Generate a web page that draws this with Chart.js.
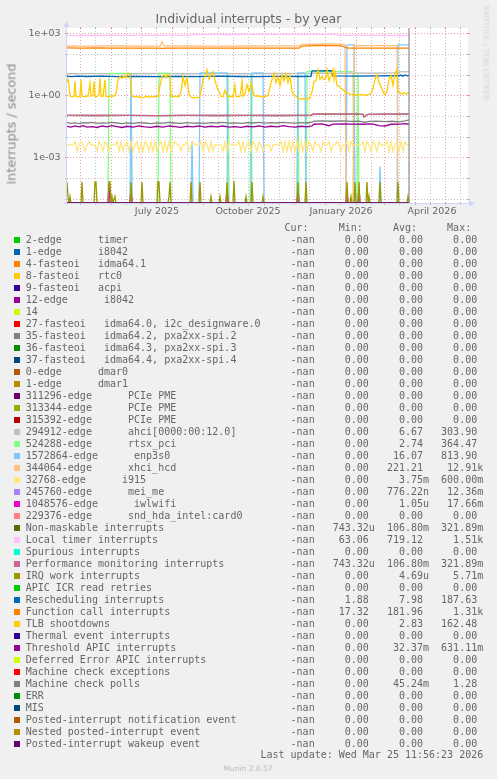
<!DOCTYPE html>
<html><head><meta charset="utf-8">
<script src="https://cdn.jsdelivr.net/npm/chart.js@4.4.0/dist/chart.umd.min.js"></script>
<style>
html,body{margin:0;padding:0;background:#F0F0F0;width:497px;height:779px;overflow:hidden;}
#wrap{position:relative;width:497px;height:779px;}
#c{position:absolute;left:0;top:0;}
.m{position:absolute;white-space:pre;font-family:'DejaVu Sans Mono',monospace;font-size:10px;line-height:12px;color:#666;}
.sq{position:absolute;width:6px;height:6px;}
.s{position:absolute;white-space:nowrap;font-family:'DejaVu Sans',sans-serif;color:#666;}
</style></head><body><div id="wrap"><canvas id="c" width="497" height="225"></canvas></div>
<script>
// ---------- texts ----------
const TITLE = 'Individual interrupts - by year';
const Y_TITLE = 'interrupts / second';
const WATERMARK = 'RRDTOOL / TOBI OETIKER';
const FOOTER = 'Munin 2.0.57';
const LAST_UPDATE = 'Last update: Wed Mar 25 11:56:23 2026';

// ---------- axes (x in days since 18 Apr 2025) ----------
const X_MAX = 401;
const Y_MIN = 6.3e-6, Y_MAX = 1.78e3;
const dataEndDay = 342;
const xLabelDays = [90, 181, 274, 365];
const xLabels = ['July 2025', 'October 2025', 'January 2026', 'April 2026'];
const monthStartDays = [13, 44, 74, 105, 136, 166, 197, 227, 258, 289, 317, 348, 378];
const minorGridDays = [28, 59, 89, 120, 151, 181, 212, 242, 273, 304, 332, 363, 393];
const yTickValues = [1e3, 1, 1e-3];
const yTickLabels = ['1e+03', '1e+00', '1e-03'];
const yMajorGrid = [1e3, 1, 1e-3];
const yMinorGrid = [1e2, 1e1, 1e-1, 1e-2, 1e-4, 1e-5];

// ---------- series: [day, interrupts/s] ----------
const ahci = [[0,11],[30,11.2],[60,11],[90,11.3],[120,11],[150,11.2],[180,11],[210,11.3],[240,11.1],[250,11.8],[270,11.5],[285,12],[300,11.6],[331,12],[333,13.5],[342,14]];
const rtsx = [[0,0],[41,0],[42,11.5],[64,11.5],[65,0],[91,0],[92,11.5],[103,11.5],[104,0],[160,0],[161,11],[162,0],[183,0],[184,11],[185,0],[230,0],[231,11],[232,0],[239,0],[240,14],[286,14],[287,0],[290,0],[291,11],[292,0],[342,0]];
const enp3s0 = [[0,0],[63,0],[64,12],[65,0],[124,0],[125,0.0058],[126,0],[132,0],[133,12],[160,12],[161,0],[184,0],[185,12],[196,12],[197,0],[230,0],[231,12],[238,12],[239,0],[279,0],[280,270],[287,270],[288,0],[312,0],[313,0.00036],[314,0],[330,0],[331,270],[342,270]];
const xhci = [[0,240],[20,238],[40,242],[60,240],[80,238],[93,240],[94,300],[95,380],[96,300],[97,242],[120,240],[150,238],[180,240],[210,242],[232,245],[235,290],[250,295],[265,300],[275,290],[278,285],[279,0],[286,0],[287,255],[300,250],[315,252],[330,250],[331,0],[342,0]];
const i915 = [[0,0.004],[2,0.004],[4,0.004],[6,0.004],[8,0.0058],[10,0.002],[12,0.004],[14,0.0058],[16,0.004],[18,0.002],[20,0.004],[22,0.0058],[24,0.004],[26,0.004],[28,0.004],[30,0.002],[32,0.0058],[34,0.004],[36,0.002],[38,0.0058],[40,0.004],[42,0.002],[44,0.004],[46,0.004],[48,0.004],[50,0.0058],[52,0.002],[54,0.0058],[56,0.002],[58,0.004],[60,0.0058],[62,0.002],[64,0.0058],[66,0.002],[68,0.004],[70,0.0058],[72,0.002],[74,0.005],[76,0.002],[78,0.0058],[80,0.004],[82,0.002],[84,0.0058],[86,0.002],[88,0.0058],[90,0.002],[92,0.004],[94,0.0058],[96,0.002],[98,0.0058],[100,0.002],[102,0.0058],[104,0.002],[106,0.004],[108,0.0058],[110,0.004],[112,0.004],[114,0.002],[116,0.004],[118,0.004],[120,0.0058],[122,0.002],[124,0.004],[126,0.0058],[128,0.004],[130,0.004],[132,0.004],[134,0.0058],[136,0.002],[138,0.0058],[140,0.004],[142,0.002],[144,0.0058],[146,0.002],[148,0.004],[150,0.004],[152,0.004],[154,0.004],[156,0.002],[158,0.0058],[160,0.002],[162,0.0058],[164,0.004],[166,0.004],[168,0.004],[170,0.004],[172,0.0058],[174,0.002],[176,0.0058],[178,0.002],[180,0.004],[182,0.0058],[184,0.002],[186,0.0058],[188,0.004],[190,0.002],[192,0.0058],[194,0.004],[196,0.002],[198,0.004],[200,0.004],[202,0.004],[204,0.002],[206,0.004],[208,0.004],[210,0.004],[212,0.004],[214,0.0058],[216,0.002],[218,0.0058],[220,0.002],[222,0.0058],[224,0.002],[226,0.0058],[228,0.002],[230,0.0058],[232,0.002],[234,0.0058],[236,0.002],[238,0.0058],[240,0.002],[242,0.0058],[244,0.004],[246,0.002],[248,0.0058],[250,0.004],[252,0.004],[254,0.002],[256,0.0058],[258,0.004],[260,0.004],[262,0.0058],[264,0.002],[266,0.004],[268,0.004],[270,0.0058],[272,0.004],[274,0.002],[276,0.004],[278,0.004],[280,0.0058],[282,0.002],[284,0.0058],[286,0.004],[288,0.004],[290,0.004],[292,0.004],[294,0.004],[296,0.0058],[298,0.002],[300,0.0058],[302,0.004],[304,0.002],[306,0.0058],[308,0.004],[310,0.002],[312,0.0058],[314,0.004],[316,0.004],[318,0.004],[320,0.0058],[322,0.002],[324,0.0058],[326,0.002],[328,0.004],[330,0.0058],[332,0.002],[334,0.0058],[336,0.002],[338,0.0058],[340,0.004],[342,0.004]];
const iwlwifi = [[0,0],[41,0],[42,5e-5],[43,0],[63,0],[64,3e-5],[65,0],[159,0],[160,3e-5],[161,0],[230,0],[231,3e-5],[232,0],[279,0],[280,3e-5],[281,0],[291,0],[292,3e-5],[293,0],[342,0]];
const pmi = [[0,0.107],[30,0.106],[60,0.107],[90,0.105],[120,0.107],[150,0.106],[180,0.107],[210,0.106],[244,0.107],[246,0.122],[270,0.123],[290,0.122],[296,0.12],[297,0.09],[299,0.105],[301,0.121],[320,0.122],[342,0.124]];
const nmi = pmi;
const localTimer = [[0,780],[10,770],[20,785],[30,775],[45,790],[60,780],[75,785],[90,790],[95,800],[100,785],[110,790],[123,800],[126,860],[140,870],[160,865],[180,875],[200,870],[220,880],[240,875],[255,880],[268,870],[272,790],[290,780],[310,785],[330,775],[342,780]];
const irqWork = [[0,6.5e-5],[1,1.3e-5],[2,0],[3,1.3e-5],[4,0],[14,0],[15,6.5e-5],[16,0],[27,0],[28,6.5e-5],[29,6.5e-5],[30,0],[41,0],[42,6.5e-5],[43,6.5e-5],[44,0],[45,1.3e-5],[46,0],[48,1.3e-5],[49,0],[63,0],[64,6.5e-5],[65,0],[74,0],[75,6.5e-5],[76,0],[90,0],[91,6.5e-5],[92,6.5e-5],[93,0],[101,0],[102,1.3e-5],[103,6.5e-5],[104,0],[123,0],[124,6.5e-5],[125,0],[132,0],[133,6.5e-5],[134,0],[143,0],[144,1.3e-5],[145,0],[152,0],[153,1.3e-5],[154,0],[159,0],[160,6.5e-5],[161,0],[166,0],[167,7.5e-5],[168,0],[178,0],[179,1.3e-5],[180,0],[184,0],[185,6.5e-5],[186,0],[195,0],[196,1.3e-5],[197,0],[230,0],[231,6.5e-5],[232,0],[238,0],[239,6.5e-5],[240,0],[279,0],[280,6.5e-5],[281,0],[283,0],[284,1.3e-5],[285,0],[287,0],[288,6.5e-5],[289,0],[291,0],[292,6.5e-5],[293,0],[299,0],[300,6.5e-5],[301,0],[302,1.3e-5],[303,0],[312,0],[313,6.5e-5],[314,0],[330,0],[331,6.5e-5],[332,0],[340,0],[341,1.3e-5],[342,0]];
const rescheduling = [[0,8.3],[5,8.0],[10,8.4],[20,8.1],[35,8.5],[50,8.0],[70,8.3],[90,7.9],[110,8.2],[130,8.0],[150,8.4],[170,8.1],[190,8.0],[210,8.2],[230,8.1],[244,8.2],[245,15],[265,15.5],[266,8.6],[290,8.4],[310,8.6],[332,8.8],[334,9.5],[336,8.4],[338,9.6],[340,8.8],[342,9.2]];
const functionCall = [[0,195],[15,190],[30,193],[45,188],[60,192],[75,190],[90,188],[96,185],[100,190],[120,192],[140,190],[160,188],[180,190],[200,192],[220,188],[232,192],[235,240],[245,250],[255,255],[265,250],[275,245],[279,200],[282,192],[300,190],[320,192],[342,190]];
const tlb = [[0,4.5],[1,6],[2,3],[3,0.9],[5,0.85],[7,0.9],[8,4.7],[9,0.9],[11,0.85],[13,0.9],[14,5.5],[15,0.9],[17,0.85],[19,0.9],[21,0.9],[23,3.9],[24,0.9],[26,1.0],[27,4.7],[28,0.9],[30,0.85],[32,1.2],[33,6.8],[34,0.9],[36,0.9],[38,5.6],[39,0.9],[41,0.85],[43,0.9],[45,0.95],[47,0.9],[49,1.2],[51,5.6],[53,8],[55,6.5],[57,9],[59,7],[61,11.9],[63,9],[65,0.9],[67,0.85],[69,0.9],[71,0.8],[73,0.85],[75,0.75],[77,0.8],[79,0.9],[81,0.85],[83,0.8],[85,0.9],[87,0.85],[89,0.9],[91,0.9],[93,3],[95,8],[97,9.8],[99,7],[101,10],[103,8],[104,0.9],[106,0.85],[108,0.9],[110,0.9],[112,0.85],[114,1.5],[116,8.1],[118,3],[120,7],[122,1.1],[124,0.8],[126,0.75],[128,0.8],[130,0.75],[132,0.8],[134,1.5],[136,6],[138,8],[140,17],[142,6],[144,9],[146,14],[148,5],[150,2.5],[152,1.5],[154,0.9],[156,0.85],[158,1.8],[160,0.9],[162,0.85],[164,0.9],[166,0.85],[168,3],[169,0.9],[171,0.85],[173,0.9],[175,4.7],[176,0.9],[178,1.2],[180,3.2],[182,1.5],[184,3.9],[185,2.7],[187,1.0],[189,0.9],[191,0.95],[193,0.87],[195,0.9],[197,0.87],[199,0.9],[201,1.0],[203,2.5],[205,6],[207,12],[209,4],[211,8],[213,3],[215,9.8],[217,5],[219,11],[221,4],[223,9],[225,1.5],[227,1.06],[229,0.9],[231,0.7],[233,0.65],[235,0.7],[237,0.65],[239,0.68],[241,0.7],[243,0.75],[245,1.5],[247,4.7],[249,5],[251,17],[253,6],[255,8],[257,5.6],[259,7],[260,17],[262,5],[264,8],[266,17],[267,6],[268,14],[270,3],[272,2.7],[274,2.2],[276,1.85],[278,1.5],[280,1.3],[282,1.2],[284,1.1],[286,1.06],[288,1.1],[290,1.0],[292,1.1],[294,1.05],[296,1.1],[298,1.0],[300,1.06],[302,1.1],[304,1.3],[306,2],[308,6],[310,9.8],[312,4],[314,2.7],[316,1.5],[318,1.06],[320,1.5],[322,6],[324,9],[326,3],[328,12],[330,17],[331,1.5],[333,1.3],[335,1.1],[337,1.4],[339,1.2],[341,1.3],[342,1.2]];
const thresholdApic = [[0,0.032],[4,0.029],[8,0.033],[12,0.030],[16,0.034],[20,0.029],[25,0.031],[30,0.028],[35,0.033],[40,0.030],[45,0.034],[50,0.031],[55,0.028],[60,0.032],[66,0.029],[72,0.033],[78,0.030],[84,0.028],[90,0.032],[96,0.029],[102,0.033],[108,0.031],[114,0.028],[120,0.032],[126,0.030],[132,0.033],[138,0.029],[144,0.032],[150,0.030],[156,0.033],[162,0.029],[168,0.031],[174,0.028],[180,0.032],[186,0.030],[192,0.033],[198,0.029],[204,0.032],[210,0.030],[216,0.034],[222,0.031],[228,0.029],[234,0.032],[240,0.030],[245,0.033],[247,0.040],[255,0.042],[262,0.034],[266,0.041],[275,0.042],[285,0.041],[295,0.040],[305,0.042],[312,0.034],[318,0.033],[324,0.040],[332,0.041],[338,0.043],[342,0.040]];
const machineCheckPolls = [[0,0.048],[4,0.044],[8,0.047],[12,0.043],[16,0.048],[20,0.046],[25,0.049],[30,0.044],[35,0.047],[40,0.045],[45,0.049],[50,0.046],[55,0.043],[60,0.047],[66,0.044],[72,0.048],[78,0.046],[84,0.043],[90,0.047],[96,0.045],[102,0.049],[108,0.046],[114,0.044],[120,0.048],[126,0.045],[132,0.047],[138,0.044],[144,0.048],[150,0.046],[156,0.049],[162,0.045],[168,0.047],[174,0.044],[180,0.048],[186,0.046],[192,0.049],[198,0.045],[204,0.048],[210,0.046],[216,0.049],[222,0.047],[228,0.045],[234,0.048],[240,0.046],[245,0.050],[247,0.057],[255,0.058],[265,0.056],[275,0.058],[285,0.055],[292,0.057],[298,0.050],[302,0.055],[310,0.057],[318,0.054],[325,0.056],[332,0.052],[338,0.058],[342,0.065]];
const postedWakeup = [[0,0],[342,0]];

// ---------- legend ----------
const legendLabels = ['2-edge      timer','1-edge      i8042','4-fasteoi   idma64.1','8-fasteoi   rtc0','9-fasteoi   acpi','12-edge      i8042','14','27-fasteoi   idma64.0, i2c_designware.0','35-fasteoi   idma64.2, pxa2xx-spi.2','36-fasteoi   idma64.3, pxa2xx-spi.3','37-fasteoi   idma64.4, pxa2xx-spi.4','0-edge      dmar0','1-edge      dmar1','311296-edge      PCIe PME','313344-edge      PCIe PME','315392-edge      PCIe PME','294912-edge      ahci[0000:00:12.0]','524288-edge      rtsx_pci','1572864-edge      enp3s0','344064-edge      xhci_hcd','32768-edge      i915','245760-edge      mei_me','1048576-edge      iwlwifi','229376-edge      snd_hda_intel:card0','Non-maskable interrupts','Local timer interrupts','Spurious interrupts','Performance monitoring interrupts','IRQ work interrupts','APIC ICR read retries','Rescheduling interrupts','Function call interrupts','TLB shootdowns','Thermal event interrupts','Threshold APIC interrupts','Deferred Error APIC interrupts','Machine check exceptions','Machine check polls','ERR','MIS','Posted-interrupt notification event','Nested posted-interrupt event','Posted-interrupt wakeup event'];
const legendColors = ['#00CC00','#0066B3','#FF8000','#FFCC00','#330099','#990099','#CCFF00','#FF0000','#808080','#008F00','#00487D','#B35A00','#B38F00','#6B006B','#8FB300','#B30000','#BEBEBE','#80FF80','#80C9FF','#FFC080','#FFE680','#AA80FF','#EE00CC','#FF8080','#666600','#FFBFFF','#00FFCC','#CC6699','#999900','#00CC00','#0066B3','#FF8000','#FFCC00','#330099','#990099','#CCFF00','#FF0000','#808080','#008F00','#00487D','#B35A00','#B38F00','#6B006B'];
const legendCur = Array(43).fill('-nan');
const legendMin = ['0.00','0.00','0.00','0.00','0.00','0.00','0.00','0.00','0.00','0.00','0.00','0.00','0.00','0.00','0.00','0.00','0.00','0.00','0.00','0.00','0.00','0.00','0.00','0.00','743.32u','63.06','0.00','743.32u','0.00','0.00','1.88','17.32','0.00','0.00','0.00','0.00','0.00','0.00','0.00','0.00','0.00','0.00','0.00'];
const legendAvg = ['0.00','0.00','0.00','0.00','0.00','0.00','0.00','0.00','0.00','0.00','0.00','0.00','0.00','0.00','0.00','0.00','6.67','2.74','16.07','221.21','3.75m','776.22n','1.05u','0.00','106.80m','719.12','0.00','106.80m','4.69u','0.00','7.98','181.96','2.83','0.00','32.37m','0.00','0.00','45.24m','0.00','0.00','0.00','0.00','0.00'];
const legendMax = ['0.00','0.00','0.00','0.00','0.00','0.00','0.00','0.00','0.00','0.00','0.00','0.00','0.00','0.00','0.00','0.00','303.90','364.47','813.90','12.91k','600.00m','12.36m','17.66m','0.00','321.89m','1.51k','0.00','321.89m','5.71m','0.00','187.63','1.31k','162.48','0.00','631.11m','0.00','0.00','1.28','0.00','0.00','0.00','0.00','0.00'];
const legendHeader = ['Cur:','Min:','Avg:','Max:'];

// ---------- page texts & legend (HTML) ----------
const wrap = document.getElementById('wrap');
function add(cls, text, style) {
  const d = document.createElement('div');
  d.className = cls; d.textContent = text; Object.assign(d.style, style); wrap.appendChild(d); return d;
}
add('s', TITLE, {left:'248.5px', top:'11px', fontSize:'12.5px', lineHeight:'15px', transform:'translateX(-50%)'});
add('s', Y_TITLE, {left:'10.8px', top:'124.2px', fontSize:'12.8px', lineHeight:'15px', color:'#8A8A8A', transform:'translate(-50%,-50%) rotate(-90deg)'});
add('s', WATERMARK, {left:'486.2px', top:'52.5px', fontSize:'7.4px', lineHeight:'9px', color:'#D6D6D6', transform:'translate(-50%,-50%) rotate(90deg)'});
add('s', FOOTER, {left:'248px', top:'763.6px', fontSize:'7.5px', lineHeight:'9px', color:'#BDBDBD', transform:'translateX(-50%)'});

const CW = 6.02, X0 = 25.7;
const colX = c => (X0 + c * CW) + 'px';
const headerCols = [43, 52, 61, 70];
legendHeader.forEach((h, k) => add('m', h, {left: colX(headerCols[k]), top: '221.8px'}));
function numStart(s, endCol) {
  const unit = /[kmun]$/.test(s) ? 1 : 0;
  return endCol - (s.length - unit);
}
legendLabels.forEach((lab, i) => {
  const top = 233.5 + 12 * i;
  const sq = document.createElement('div'); sq.className = 'sq';
  Object.assign(sq.style, {left:'14px', top:(236.7 + 12 * i) + 'px', background: legendColors[i]});
  wrap.appendChild(sq);
  add('m', lab, {left: colX(0), top: top + 'px'});
  add('m', legendCur[i], {left: colX(48 - legendCur[i].length), top: top + 'px'});
  add('m', legendMin[i], {left: colX(numStart(legendMin[i], 57)), top: top + 'px'});
  add('m', legendAvg[i], {left: colX(numStart(legendAvg[i], 66)), top: top + 'px'});
  add('m', legendMax[i], {left: colX(numStart(legendMax[i], 75)), top: top + 'px'});
});
add('m', LAST_UPDATE, {left: colX(76 - LAST_UPDATE.length), top: '749.4px'});

// ---------- chart ----------
const seriesList = [
  ['294912-edge ahci', ahci, '#BEBEBE'],
  ['524288-edge rtsx_pci', rtsx, '#80FF80'],
  ['1572864-edge enp3s0', enp3s0, '#80C9FF'],
  ['344064-edge xhci_hcd', xhci, '#FFC080'],
  ['32768-edge i915', i915, '#FFE680'],
  ['1048576-edge iwlwifi', iwlwifi, '#EE00CC'],
  ['Non-maskable interrupts', nmi, '#666600'],
  ['Local timer interrupts', localTimer, '#FFBFFF'],
  ['Performance monitoring interrupts', pmi, '#CC6699'],
  ['IRQ work interrupts', irqWork, '#999900'],
  ['Rescheduling interrupts', rescheduling, '#0066B3'],
  ['Function call interrupts', functionCall, '#FF8000'],
  ['TLB shootdowns', tlb, '#FFCC00'],
  ['Threshold APIC interrupts', thresholdApic, '#990099'],
  ['Machine check polls', machineCheckPolls, '#808080'],
  ['Posted-interrupt wakeup event', postedWakeup, '#6B006B']
];
const N = seriesList.length;
const datasets = seriesList.map(([label, pts, color], i) => ({
  label,
  data: pts.map(([x, y]) => ({x, y: y === 0 ? Y_MIN : y})),
  borderColor: color, borderWidth: 1.3, pointRadius: 0, tension: 0, fill: false, clip: 0,
  order: N - i + 1
}));
datasets.push({
  label: 'data end', data: [{x: dataEndDay, y: Y_MIN}, {x: dataEndDay, y: Y_MAX}],
  borderColor: '#8C8C8C', borderWidth: 1.2, pointRadius: 0, fill: false, clip: 0, order: 0
});

const GRID_MINOR = 'rgba(143,143,143,0.55)';
const GRID_MAJOR = 'rgba(222,79,79,0.55)';
const AXIS = '#CFD6F8';
const rrdPlugin = {
  id: 'rrd',
  beforeDraw(chart) {
    const {ctx, chartArea: a} = chart;
    ctx.save(); ctx.fillStyle = '#FFFFFF';
    ctx.fillRect(a.left, a.top, a.right - a.left, a.bottom - a.top); ctx.restore();
  },
  beforeDatasetsDraw(chart) {
    const {ctx, chartArea: a, scales: {x, y}} = chart;
    ctx.save(); ctx.lineWidth = 1;
    const hline = (v, col) => {
      const py = Math.round(y.getPixelForValue(v)) + 0.5;
      ctx.strokeStyle = col;
      ctx.setLineDash([1, 2]); ctx.beginPath(); ctx.moveTo(a.left, py); ctx.lineTo(a.right, py); ctx.stroke();
      ctx.setLineDash([]); ctx.beginPath();
      ctx.moveTo(a.left - 2, py); ctx.lineTo(a.left + 1, py);
      ctx.moveTo(a.right - 1, py); ctx.lineTo(a.right + 2, py); ctx.stroke();
    };
    const vline = (d, col) => {
      const px = Math.round(x.getPixelForValue(d)) + 0.5;
      if (px < a.left || px > a.right) return;
      ctx.strokeStyle = col;
      ctx.setLineDash([1, 2]); ctx.beginPath(); ctx.moveTo(px, a.top); ctx.lineTo(px, a.bottom); ctx.stroke();
      ctx.setLineDash([]); ctx.beginPath();
      ctx.moveTo(px, a.top - 1); ctx.lineTo(px, a.top + 1);
      ctx.moveTo(px, a.bottom - 1); ctx.lineTo(px, a.bottom + 2); ctx.stroke();
    };
    yMinorGrid.forEach(v => hline(v, GRID_MINOR));
    minorGridDays.forEach(d => vline(d, GRID_MINOR));
    yMajorGrid.forEach(v => hline(v, GRID_MAJOR));
    monthStartDays.forEach(d => vline(d, GRID_MAJOR));
    // axes with arrows
    ctx.strokeStyle = AXIS; ctx.fillStyle = AXIS; ctx.lineWidth = 1;
    const ax = a.left - 0.5, ay = a.bottom + 0.5;
    ctx.beginPath(); ctx.moveTo(ax, a.bottom + 2); ctx.lineTo(ax, a.top - 1); ctx.stroke();
    ctx.beginPath(); ctx.moveTo(ax - 3, a.top - 1); ctx.lineTo(ax + 3, a.top - 1); ctx.lineTo(ax, a.top - 7); ctx.closePath(); ctx.fill();
    ctx.beginPath(); ctx.moveTo(a.left - 3, ay); ctx.lineTo(a.right + 1, ay); ctx.stroke();
    ctx.beginPath(); ctx.moveTo(a.right + 1, ay - 3); ctx.lineTo(a.right + 1, ay + 3); ctx.lineTo(a.right + 7, ay); ctx.closePath(); ctx.fill();
    ctx.restore();
  }
};

const tickFont = {family: "'DejaVu Sans'", size: 9.5};
new Chart(document.getElementById('c'), {
  type: 'line',
  data: {datasets},
  options: {
    responsive: false, animation: false, devicePixelRatio: 1,
    layout: {padding: {left: 0, right: 29, top: 28, bottom: 0}},
    plugins: {legend: {display: false}, tooltip: {enabled: false}, title: {display: false}},
    scales: {
      x: {
        type: 'linear', min: 0, max: X_MAX, bounds: 'data',
        grid: {display: false, drawTicks: false}, border: {display: false},
        afterBuildTicks: s => { s.ticks = xLabelDays.map(v => ({value: v})); },
        afterFit: s => { s.height = 22; },
        ticks: {autoSkip: false, maxRotation: 0, minRotation: 0, padding: 3, color: '#666', font: tickFont,
          callback: v => { const k = xLabelDays.indexOf(v); return k >= 0 ? xLabels[k] : ''; }}
      },
      y: {
        type: 'logarithmic', min: Y_MIN, max: Y_MAX, bounds: 'data',
        grid: {display: false, drawTicks: false}, border: {display: false},
        afterBuildTicks: s => { s.ticks = yTickValues.map(v => ({value: v})); },
        afterFit: s => { s.width = 67; },
        ticks: {autoSkip: false, padding: 6.5, color: '#666', font: tickFont,
          callback: v => { const k = yTickValues.findIndex(t => Math.abs(Math.log10(t) - Math.log10(v)) < 1e-6); return k >= 0 ? yTickLabels[k] : ''; }}
      }
    }
  },
  plugins: [rrdPlugin]
});
</script></body></html>
